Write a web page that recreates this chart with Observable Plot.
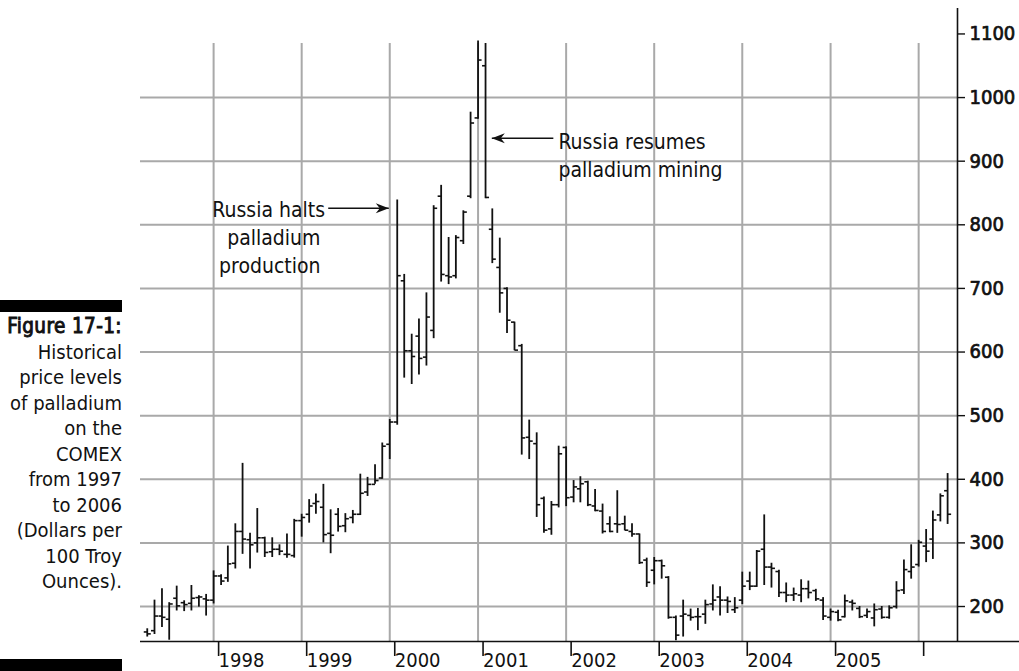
<!DOCTYPE html>
<html>
<head>
<meta charset="utf-8">
<script src="https://cdn.jsdelivr.net/npm/d3@7"></script>
<script src="https://cdn.jsdelivr.net/npm/@observablehq/plot@0.6"></script>
<style>
  body { margin: 0; background: #fff; }
  #wrap { position: relative; width: 1019px; height: 671px; overflow: hidden;
          font-family: "Liberation Sans Narrow", "Arial Narrow", "DejaVu Sans Condensed", sans-serif; color: #111; }
  #chart { position: absolute; left: 0; top: 0; }
  .cbar { position: absolute; left: 0; width: 122px; background: #000; }
  #caption { position: absolute; left: 0; width: 122px; top: 314px; text-align: right;
             font-size: 20px; line-height: 25.5px; white-space: nowrap; }
  #caption .fig { font-weight: normal; -webkit-text-stroke: 0.9px #111; letter-spacing: 0.4px; font-size: 20.5px; }
</style>
</head>
<body>
<div id="wrap">
  <div id="chart"></div>
  <div class="cbar" style="top:300px;height:12px"></div>
  <div id="caption"><span class="fig">Figure 17-1:</span><br>Historical<br>price levels<br>of palladium<br>on the<br>COMEX<br>from 1997<br>to 2006<br>(Dollars per<br>100 Troy<br>Ounces).</div>
  <div class="cbar" style="top:659px;height:12px"></div>
</div>
<script>
// Monthly bars, April 1997 .. May 2006 (dollars)
const firstMonth = "1997-04-01";
const open = [
  160,162,185,180,213,206,205,214,212,                 // 1997 Apr-Dec
  210,248,245,268,318,305,300,308,286,290,282,280,     // 1998
  335,345,362,356,315,345,327,340,345,380,392,402,     // 1999
  455,490,712,602,625,592,634,845,720,720,775,845,     // 2000
  968,1050,793,733,700,647,610,466,456,370,322,360,    // 2001
  450,372,385,396,358,350,330,330,330,318,314,273,     // 2002
  257,272,246,183,185,186,184,188,204,215,210,195,     // 2003
  210,240,232,290,262,255,222,218,218,228,225,210,     // 2004
  183,191,184,207,197,186,182,196,183,200,226,255,     // 2005
  266,295,306,344,382                                  // 2006 Jan-May
];
const high = [
  165,210,228,206,232,209,233,217,219,
  256,250,295,330,425,315,354,309,308,297,314,337,
  345,368,377,392,352,354,346,351,408,403,423,457,
  494,839,722,628,652,693,830,862,780,783,822,977,
  1089,1085,825,779,701,647,612,493,473,372,365,452,
  451,398,404,397,384,361,341,382,342,330,314,276,
  277,273,247,185,210,196,197,210,234,231,215,214,
  254,254,288,344,268,257,237,229,242,240,227,214,
  196,194,218,210,200,196,204,200,201,239,273,297,
  304,321,350,377,409
];
const low = [
  152,156,167,147,193,192,193,199,185,
  204,233,238,259,282,259,284,277,277,280,276,276,
  309,331,345,300,283,317,316,330,343,373,392,400,
  431,485,559,549,564,578,621,710,706,715,769,841,
  966,841,739,661,629,602,438,431,340,315,312,355,
  357,363,363,357,349,314,316,315,319,309,266,230,
  234,243,180,146,152,177,162,172,193,185,189,189,
  203,225,230,233,229,214,206,208,206,212,208,178,
  177,176,182,193,181,181,168,180,180,196,219,243,
  262,269,274,333,329
];
const close = [
  157,185,183,204,201,203,213,215,210,
  248,240,267,318,306,297,308,285,290,287,282,335,
  340,358,365,313,312,326,338,345,378,392,398,452,
  490,720,602,593,590,655,826,722,718,780,820,960,
  1059,843,746,693,650,603,465,460,360,320,360,440,
  371,388,393,360,351,318,318,329,320,314,269,238,
  272,264,183,155,188,183,184,203,210,210,208,198,
  232,232,287,262,260,222,218,220,228,222,212,185,
  192,179,209,205,184,192,195,183,198,225,258,262,
  301,287,336,374,345
];
const yearTicks = ["1998","1999","2000","2001","2002","2003","2004","2005","2006"];
const yearLabels = ["1998","1999","2000","2001","2002","2003","2004","2005",""];
const gridValues = [200,300,400,500,600,700,800,900,1000];
const axisValues = [200,300,400,500,600,700,800,900,1000,1100];
const xDomain = ["1997-03-04","2006-06-11"];
const yDomain = [145, 1140];
const gridTop = 1085;
const baselineEnd = "2007-03-01";

const notesEnd = [
  {text: "Russia halts", x: "1999-04-08", y: 826},
  {text: "palladium\nproduction", x: "1999-03-20", y: 760}
];
const notesStart = [
  {text: "Russia resumes\npalladium mining", x: "2001-11-30", y: 911}
];
const arrowRight = [{x1: "1999-04-21", x2: "1999-12-28", y: 826}];
const arrowLeft = [{x1: "2001-11-09", x2: "2001-02-27", y: 936}];

const D = s => new Date(s + "T00:00:00Z");
const start = D(firstMonth);
const bars = open.map((o, i) => ({
  date: d3.utcMonth.offset(start, i), open: o, high: high[i], low: low[i], close: close[i]
}));
const years = yearTicks.map((y, i) => ({date: D(y + "-01-01"), label: yearLabels[i]}));
const xMin = D(xDomain[0]), xMax = D(xDomain[1]);

const openTick = {draw(ctx, size) { const r = Math.sqrt(size / Math.PI); ctx.moveTo(-r, 0); ctx.lineTo(0, 0); }};
const closeTick = {draw(ctx, size) { const r = Math.sqrt(size / Math.PI); ctx.moveTo(0, 0); ctx.lineTo(r, 0); }};
const headRight = {draw(ctx) { ctx.moveTo(0, 0); ctx.lineTo(-13, -5); ctx.lineTo(-9, 0); ctx.lineTo(-13, 5); ctx.closePath(); }};
const headLeft = {draw(ctx) { ctx.moveTo(0, 0); ctx.lineTo(13, -5); ctx.lineTo(9, 0); ctx.lineTo(13, 5); ctx.closePath(); }};

const FONT = '"Liberation Sans Narrow", "Arial Narrow", "DejaVu Sans Condensed", sans-serif';
const GRID = "#a9a9a9";
const INK = "#111";

const chart = Plot.plot({
  width: 1019,
  height: 671,
  marginLeft: 140,
  marginRight: 62,
  marginTop: 8,
  marginBottom: 30,
  style: {fontFamily: FONT, fontSize: "20px", color: INK, background: "transparent", overflow: "visible"},
  x: {type: "utc", domain: [xMin, xMax], axis: null},
  y: {domain: yDomain, axis: null},
  marks: [
    Plot.ruleY(gridValues, {stroke: GRID, strokeWidth: 2}),
    Plot.ruleX(years, {x: "date", y1: yDomain[0], y2: gridTop, stroke: GRID, strokeWidth: 2}),
    Plot.ruleX(bars, {x: "date", y1: "low", y2: "high", stroke: INK, strokeWidth: 1.8}),
    Plot.dot(bars, {x: "date", y: "open", symbol: openTick, r: 3.5, fill: "none", stroke: INK, strokeWidth: 1.6}),
    Plot.dot(bars, {x: "date", y: "close", symbol: closeTick, r: 3.5, fill: "none", stroke: INK, strokeWidth: 1.6}),
    Plot.ruleY([yDomain[0]], {x1: xMin, x2: D(baselineEnd), stroke: INK, strokeWidth: 1.6}),
    Plot.ruleX([xMax], {y1: yDomain[0], y2: yDomain[1], stroke: INK, strokeWidth: 1.6}),
    Plot.axisY(axisValues, {anchor: "right", tickSize: 7, tickPadding: 5, strokeWidth: 1.4, tickFormat: () => ""}),
    Plot.text(axisValues, {x: xMax, y: d => d, text: d => String(d), textAnchor: "start", dx: 12, fontSize: 20,
      fill: INK, stroke: INK, strokeWidth: 0.7}),
    Plot.axisX(years.map(d => d.date), {anchor: "bottom", tickSize: 15, tickPadding: -4, strokeWidth: 1.6,
      tickFormat: d => years.find(y => +y.date === +d).label, textAnchor: "start", dx: 5, fontSize: 20}),
    Plot.link(arrowRight, {x1: d => D(d.x1), x2: d => D(d.x2), y1: "y", y2: "y", stroke: INK, strokeWidth: 1.4}),
    Plot.link(arrowLeft, {x1: d => D(d.x1), x2: d => D(d.x2), y1: "y", y2: "y", stroke: INK, strokeWidth: 1.4}),
    Plot.dot(arrowRight, {x: d => D(d.x2), y: "y", symbol: headRight, fill: INK, stroke: "none"}),
    Plot.dot(arrowLeft, {x: d => D(d.x2), y: "y", symbol: headLeft, fill: INK, stroke: "none"}),
    Plot.text(notesEnd, {x: d => D(d.x), y: "y", text: "text", textAnchor: "end", lineAnchor: "middle", lineHeight: 1.3, fontSize: 21, fill: INK}),
    Plot.text(notesStart, {x: d => D(d.x), y: "y", text: "text", textAnchor: "start", lineAnchor: "middle", lineHeight: 1.3, fontSize: 21, fill: INK})
  ]
});
document.getElementById("chart").appendChild(chart);
</script>
</body>
</html>
